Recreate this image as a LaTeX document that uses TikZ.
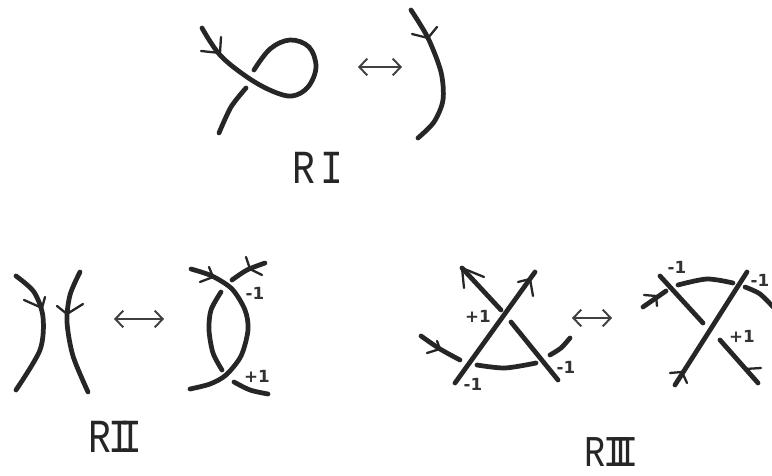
\documentclass[tikz,border=0pt]{standalone}
\usepackage{fontspec}
\setmainfont{DejaVu Sans}
\newfontfamily\movefont{Liberation Mono}
\usepackage{xcolor}
\usetikzlibrary{arrows.meta}
\definecolor{strandcol}{HTML}{262626}
\definecolor{swapcol}{HTML}{404040}
\definecolor{signcol}{HTML}{333333}
\tikzset{
  % thick pen stroke = piece of a knot strand
  strand/.style={draw=strandcol, line width=2.7pt, line cap=round, line join=round},
  % thin stroke = the two sides of an orientation arrow
  barb/.style={draw=strandcol, line width=1.3pt, line cap=round, line join=round},
  % double arrow between the two sides of a move
  swap/.style={draw=swapcol, line width=1.1pt,
               {Straight Barb[length=4.5pt,width=9.5pt,line width=1.1pt]}-{Straight Barb[length=4.5pt,width=9.5pt,line width=1.1pt]}},
  % crossing sign
  sign/.style={font=\fontsize{9.5}{10}\selectfont\bfseries, text=signcol, inner sep=0pt},
  % name of a move
  movename/.style={font=\movefont\fontsize{27}{27}\selectfont, text=strandcol, inner sep=0pt, xscale=0.8},
}
\newcommand{\barbs}[1]{%
  \foreach \ax/\ay/\tx/\ty/\bx/\by in {#1}
    \draw[barb] (\ax,\ay) -- (\tx,\ty) -- (\bx,\by);%
}
\begin{document}
\begin{tikzpicture}[x=0.02cm, y=-0.02cm]
  \clip (0,0) rectangle (772,476);
  \fill[white] (0,0) rectangle (772,476);

  % RI, loop side
  \draw[strand] plot[smooth, tension=0.6] coordinates
    {(202,28) (220,55) (247,77) (272,91) (292,96) (308,87) (316,67) (309,47) (290,40) (270,49) (254,70)};
  \draw[strand] plot[smooth] coordinates {(246,88) (231,107) (219,133)};
  % RI, plain side
  \draw[strand] plot[smooth] coordinates {(411,10) (428,38) (441,72) (443,100) (434,122) (418,138)};
  \barbs{221/37/220/53/201/51, 437/27/428/38/412/34}
  \draw[swap] (358,67) -- (402,67);
  \node[movename] (ri) at (318,168) {R\kern4pt I};

  % RII, apart
  \draw[strand] plot[smooth] coordinates {(16,276) (34,292) (43,317) (40,350) (16,390)};
  \draw[strand] plot[smooth] coordinates {(80,272) (70,295) (67,322) (73,356) (88,392)};
  \barbs{45/297/42/308/24/300, 57/306/67/314/83/304}
  \draw[swap] (114,319) -- (164,319);
  % RII, overlapping
  \draw[strand] plot[smooth] coordinates {(191,269) (212,276) (232,289) (245,310) (248,330) (241,356) (226,375) (210,384) (190,389)};
  \draw[strand] plot[smooth] coordinates {(221,292) (211,310) (209,330) (213,353) (222,370)};
  \draw[strand] plot[smooth] coordinates {(232,280) (247,270) (265,263)};
  \draw[strand] plot[smooth] coordinates {(234,382) (250,390) (268,394)};
  \barbs{209/267/213/277/200/282, 246/257/250/269/262/275}
  \node[movename] (rii) at (115,437) {R\kern-1.5pt I\kern-9pt I};

  % RIII, left side
  \draw[strand] (462,268) -- (501,310);
  \draw[strand] (535,272) -- (455,383);
  \draw[strand] (511,322) -- (558,380);
  \draw[strand] plot[smooth] coordinates {(550,355) (561,348) (570,338)};
  \draw[strand] plot[smooth] coordinates {(477,365) (505,368) (536,363)};
  \draw[strand] plot[smooth] coordinates {(421,336) (440,349) (460,360)};
  \barbs{484/277/462/268/464/288, 518/282/530/279/533/296, 437/341/440/349/427/353}
  \draw[swap] (572,318) -- (612,318);

  % RIII, right side
  \draw[strand] (660,276) -- (703,323);
  \draw[strand] plot[smooth] coordinates {(678,285) (707,279) (733,283)};
  \draw[strand] (747,272) -- (675,385);
  \draw[strand] (643,307) -- (666,291);
  \draw[strand] plot[smooth] coordinates {(745,287) (760,294) (775,309)};
  \draw[strand] (720,340) -- (758,383);
  \barbs{670/373/682/372/687/383, 644/295/656/296/657/306}
  \draw[barb] (745,369) -- (761,368);
  \node[movename, font=\movefont\fontsize{25}{25}\selectfont] (riii) at (612,452) {R\kern-1.5pt I\kern-10pt I\kern-10pt I};

  % crossing signs
  \foreach \x/\y/\val/\lab in {255/293/-1/a, 257/376/+1/b, 478/316/+1/c, 566/367/-1/d,
                               473/384/-1/e, 677/267/-1/f, 760/280/-1/g, 742/336/+1/h}
    \node[sign] (sign\lab) at (\x,\y) {\val};
\end{tikzpicture}
\end{document}
